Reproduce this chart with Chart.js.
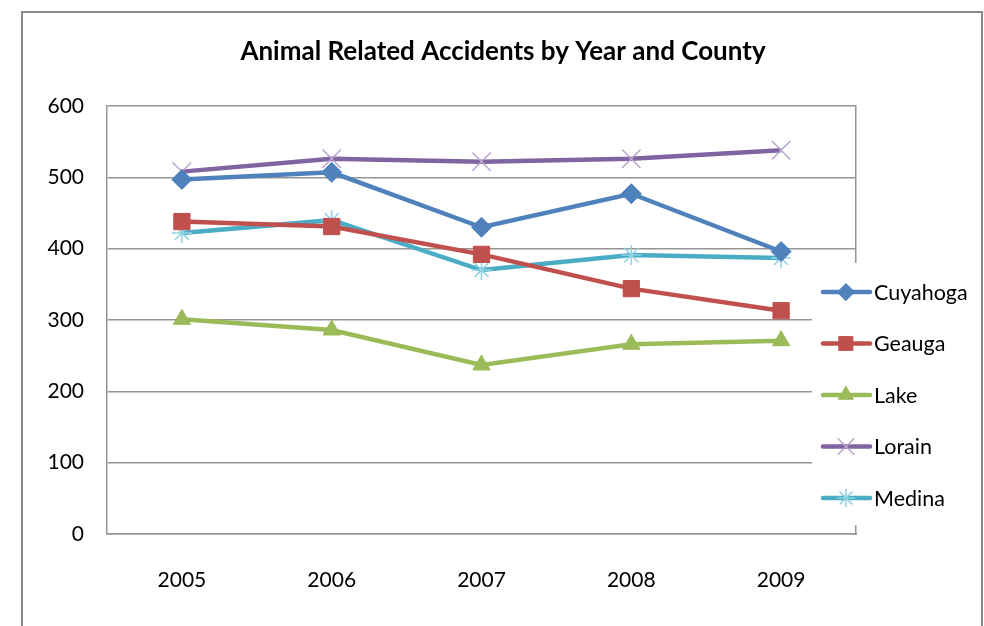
<!DOCTYPE html>
<html>
<head>
<meta charset="utf-8">
<script src="https://cdn.jsdelivr.net/npm/chart.js@4.4.1/dist/chart.umd.min.js"></script>
<style>
  html, body { margin: 0; padding: 0; background: #fff; overflow: hidden; }
  #wrap { position: relative; width: 984px; height: 626px; }
  #frame { position: absolute; left: 21px; top: 11px; width: 962px; height: 700px; border: 2px solid #8a8a8a; box-sizing: border-box; }
  canvas { position: absolute; left: 0; top: 0; }
</style>
</head>
<body>
<div id="wrap">
  <div id="frame"></div>
  <canvas id="grafico" width="984" height="626"></canvas>
</div>
<script>
const anos = ["2005", "2006", "2007", "2008", "2009"];
const condados = ["Cuyahoga", "Geauga", "Lake", "Lorain", "Medina"];
const cuyahoga = [497, 507, 430, 477, 396];
const geauga = [438, 431, 392, 344, 313];
const lake = [301, 286, 237, 266, 271];
const lorain = [508, 526, 522, 526, 538];
const medina = [422, 440, 370, 391, 387];
const eixoY = [0, 100, 200, 300, 400, 500, 600];

const fonte = "Lato, 'Open Sans', sans-serif";

// legenda desenhada por cima da área do gráfico, como no original
const legendaDentro = {
  id: "legendaDentro",
  afterDraw(chart) {
    const ctx = chart.ctx;
    const area = chart.chartArea;
    const x0 = area.right - 44;
    ctx.save();
    ctx.fillStyle = "#fff";
    ctx.fillRect(x0, 263, 975 - x0, 262);
    chart.data.datasets.forEach((ds, i) => {
      const y = 292 + i * 51.5;
      ctx.strokeStyle = ds.borderColor;
      ctx.lineWidth = 4.5;
      ctx.lineCap = "round";
      ctx.beginPath();
      ctx.moveTo(x0 + 11, y);
      ctx.lineTo(x0 + 58, y);
      ctx.stroke();
      ctx.fillStyle = ds.pointBackgroundColor;
      ctx.strokeStyle = ds.pointBorderColor;
      ctx.lineWidth = ds.pointBorderWidth;
      Chart.helpers.drawPoint(ctx, {
        pointStyle: ds.pointStyle,
        radius: ds.pointRadius * 0.85,
        rotation: 0,
        borderWidth: ds.pointBorderWidth
      }, x0 + 34, y);
      ctx.fillStyle = "#000";
      ctx.font = "21.5px " + fonte;
      ctx.textBaseline = "middle";
      ctx.textAlign = "left";
      ctx.fillText(ds.label, x0 + 62, y + 1);
    });
    ctx.restore();
  }
};

function serie(nome, dados, cor, estilo, raio, corPonto, larguraPonto) {
  return {
    label: nome,
    data: dados,
    borderColor: cor,
    backgroundColor: cor,
    borderWidth: 4.5,
    pointStyle: estilo,
    pointRadius: raio,
    pointHoverRadius: raio,
    pointBackgroundColor: corPonto,
    pointBorderColor: corPonto,
    pointBorderWidth: larguraPonto,
    tension: 0
  };
}

const ctx = document.getElementById("grafico").getContext("2d");
window.grafico = new Chart(ctx, {
  type: "line",
  data: {
    labels: anos,
    datasets: [
      serie(condados[0], cuyahoga, "#4F81BD", "rectRot", 10, "#4F81BD", 1),
      serie(condados[1], geauga, "#C0504D", "rect", 11.5, "#C0504D", 1),
      serie(condados[2], lake, "#9BBB59", "triangle", 10, "#9BBB59", 1),
      serie(condados[3], lorain, "#8064A2", "crossRot", 13, "#b7a5cf", 1.5),
      serie(condados[4], medina, "#4BACC6", "star", 10, "#8fd2e3", 1.5)
    ]
  },
  options: {
    responsive: false,
    animation: false,
    layout: { padding: { left: 22, right: 0, top: 0, bottom: 0 } },
    plugins: {
      legend: { display: false },
      tooltip: { enabled: false },
      title: {
        display: true,
        text: "Animal Related Accidents by Year and County",
        color: "#000",
        font: { family: fonte, size: 26, weight: "bold" },
        padding: { top: 36, bottom: 38.8 }
      }
    },
    scales: {
      x: {
        offset: true,
        grid: { display: false, drawTicks: false },
        border: { display: true, color: "#959595", width: 1.5 },
        ticks: { color: "#000", font: { family: fonte, size: 21 }, padding: 34 },
        afterFit(scale) { scale.height = 92; }
      },
      y: {
        min: eixoY[0],
        max: eixoY[eixoY.length - 1],
        afterBuildTicks(scale) { scale.ticks = eixoY.map(v => ({ value: v })); },
        grid: { color: "#959595", lineWidth: 1.5, drawTicks: false },
        border: { display: true, color: "#959595", width: 1.5 },
        ticks: { color: "#000", font: { family: fonte, size: 21 }, padding: 23 },
        afterFit(scale) { scale.width = 85; }
      },
      y2: {
        position: "right",
        min: 0,
        max: 600,
        grid: { display: false, drawTicks: false },
        border: { display: true, color: "#959595", width: 1.5 },
        ticks: { display: false },
        afterFit(scale) { scale.width = 128; }
      }
    }
  },
  plugins: [legendaDentro]
});
</script>
</body>
</html>
